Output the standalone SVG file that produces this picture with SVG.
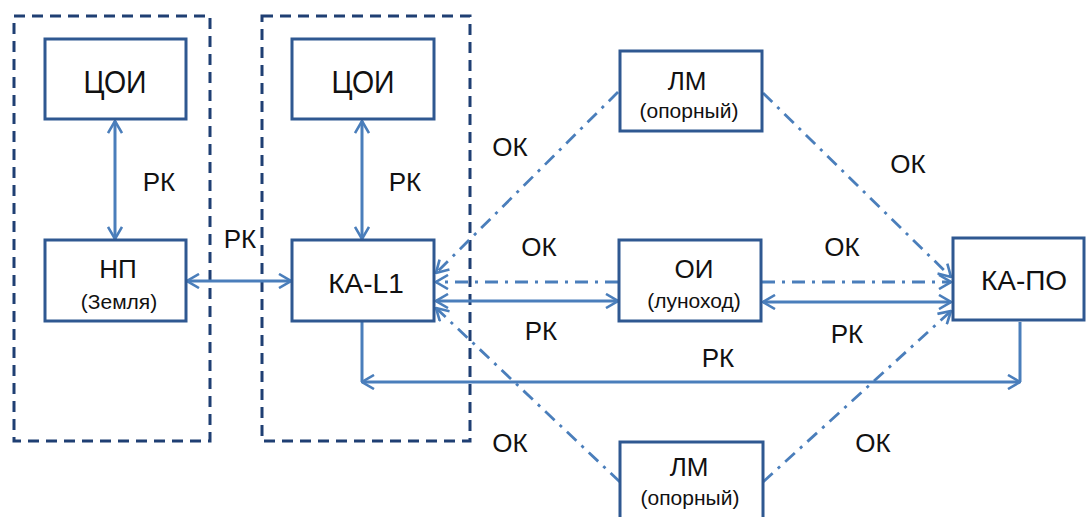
<svg xmlns="http://www.w3.org/2000/svg" width="1086" height="517" viewBox="0 0 1086 517">
<style>
.bg{fill:#ffffff}
.cont{fill:none;stroke:#1f3f73;stroke-width:3;stroke-dasharray:11 7}
.box{fill:#ffffff;stroke:#2f5891;stroke-width:3}
.rk{fill:none;stroke:#4a7ebb;stroke-width:3}
.ok{fill:none;stroke:#4a7ebb;stroke-width:2.8;stroke-dasharray:13 7 3 7}
.t{font-family:"Liberation Sans",Arial,sans-serif;fill:#111;text-anchor:middle}
.big{font-size:26px}
.huge{font-size:31px}
.small{font-size:21px}
</style>
<defs>
<marker id="arr" viewBox="0 0 14 16" refX="13" refY="8" markerWidth="14" markerHeight="16" markerUnits="userSpaceOnUse" orient="auto-start-reverse">
<path d="M1,1 L13,8 L1,15" fill="none" stroke="#4a7ebb" stroke-width="2.6"/>
</marker>
</defs>
<rect class="bg" x="0" y="0" width="1086" height="517"/>

<g id="containers">
<rect class="cont" x="14" y="16" width="196" height="425"/>
<rect class="cont" x="262" y="16" width="208" height="425"/>
</g>

<g id="connectors">
<line class="rk" x1="115" y1="121" x2="115" y2="239" marker-start="url(#arr)" marker-end="url(#arr)"/>
<line class="rk" x1="362" y1="121" x2="362" y2="239" marker-start="url(#arr)" marker-end="url(#arr)"/>
<line class="rk" x1="187" y1="281" x2="291" y2="281" marker-start="url(#arr)" marker-end="url(#arr)"/>
<line class="rk" x1="436" y1="301" x2="618" y2="301" marker-start="url(#arr)" marker-end="url(#arr)"/>
<line class="rk" x1="763" y1="302" x2="951" y2="302" marker-start="url(#arr)" marker-end="url(#arr)"/>
<polyline class="rk" points="362,322 362,382"/>
<polyline class="rk" points="1020,322 1020,382"/>
<line class="rk" x1="362" y1="382" x2="1020" y2="382" marker-start="url(#arr)" marker-end="url(#arr)"/>
<line class="ok" x1="618" y1="282" x2="436" y2="282" marker-end="url(#arr)"/>
<line class="ok" x1="762" y1="282" x2="951" y2="282" marker-end="url(#arr)"/>
<line class="ok" x1="618" y1="92" x2="436" y2="273" marker-end="url(#arr)"/>
<line class="ok" x1="763" y1="93" x2="951" y2="277" marker-end="url(#arr)"/>
<line class="ok" x1="620" y1="482" x2="436" y2="308" marker-end="url(#arr)"/>
<line class="ok" x1="763" y1="482" x2="951" y2="311" marker-end="url(#arr)"/>
</g>

<g id="labels">
<text class="t big" x="159" y="191">РК</text>
<text class="t big" x="405" y="191">РК</text>
<text class="t big" x="240" y="248">РК</text>
<text class="t big" x="510" y="156">ОК</text>
<text class="t big" x="908" y="173">ОК</text>
<text class="t big" x="539" y="256">ОК</text>
<text class="t big" x="842" y="256">ОК</text>
<text class="t big" x="541" y="340">РК</text>
<text class="t big" x="847" y="343">РК</text>
<text class="t big" x="718" y="367">РК</text>
<text class="t big" x="510" y="452">ОК</text>
<text class="t big" x="873" y="452">ОК</text>
</g>

<g id="coi-left">
<rect class="box" x="45" y="39" width="141" height="80"/>
<text class="t huge" x="115" y="93" textLength="63" lengthAdjust="spacingAndGlyphs">ЦОИ</text>
</g>
<g id="coi-right">
<rect class="box" x="292" y="39" width="142" height="80"/>
<text class="t huge" x="363" y="93" textLength="63" lengthAdjust="spacingAndGlyphs">ЦОИ</text>
</g>
<g id="np">
<rect class="box" x="45" y="240" width="141" height="81"/>
<text class="t big" x="118" y="278">НП</text>
<text class="t small" x="119" y="309">(Земля)</text>
</g>
<g id="ka-l1">
<rect class="box" x="292" y="240" width="142" height="81"/>
<text class="t big" x="366" y="293" style="font-size:28px">КА-L1</text>
</g>
<g id="lm-top">
<rect class="box" x="620" y="51" width="142" height="80"/>
<text class="t big" x="687" y="90">ЛМ</text>
<text class="t small" x="689" y="118">(опорный)</text>
</g>
<g id="oi">
<rect class="box" x="619" y="240" width="142" height="81"/>
<text class="t big" x="694" y="278">ОИ</text>
<text class="t small" x="694" y="308">(луноход)</text>
</g>
<g id="ka-po">
<rect class="box" x="953" y="238" width="131" height="82"/>
<text class="t big" x="1024" y="290" style="font-size:28px">КА-ПО</text>
</g>
<g id="lm-bottom">
<rect class="box" x="620" y="442" width="143" height="80"/>
<text class="t big" x="689" y="476">ЛМ</text>
<text class="t small" x="690" y="505">(опорный)</text>
</g>
</svg>
